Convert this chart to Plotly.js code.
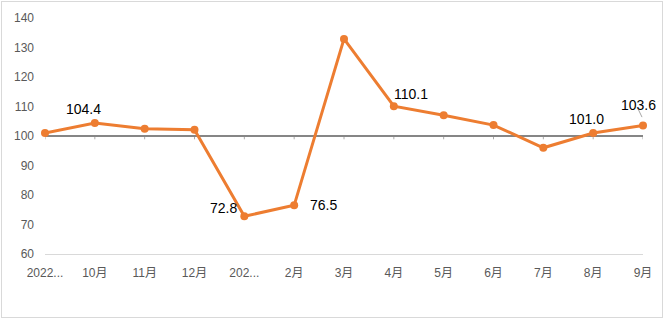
<!DOCTYPE html>
<html>
<head>
<meta charset="utf-8">
<script src="https://cdn.plot.ly/plotly-3.0.1.min.js"></script>
<style>
  html, body { margin: 0; padding: 0; background: #fff; }
  #wrap { position: relative; width: 665px; height: 319px; }
  #chart { position: absolute; left: 0; top: 0; width: 665px; height: 319px; }
  #frame { position: absolute; left: 1px; top: 1px; width: 660px; height: 315px; border: 1px solid #d9d9d9; pointer-events: none; }
</style>
</head>
<body>
<div id="wrap"><div id="chart"></div><div id="frame"></div></div>
<script>
// Data
const categories = ["2022...", "10月", "11月", "12月", "202...", "2月", "3月", "4月", "5月", "6月", "7月", "8月", "9月"];
const values = [101.0, 104.4, 102.5, 102.1, 72.8, 76.5, 132.9, 110.1, 107.0, 103.7, 96.0, 101.0, 103.6];
const yTicks = [60, 70, 80, 90, 100, 110, 120, 130, 140];
const baseline = 100;
// Which points carry a data label
const labeledIdx = [1, 4, 5, 7, 11, 12];
// label offsets (pixels) relative to the point
const labelShift = {
  1: [-11, 14], 4: [-21, 8], 5: [29, 0], 7: [17, 12], 11: [-7, 14], 12: [-5, 20]
};

const idx = categories.map((_, i) => i);
const orange = "#ED7D31";
const font = "Liberation Sans, Arial, Noto Sans CJK SC, sans-serif";

const trace = {
  x: idx, y: values, type: "scatter", mode: "lines+markers",
  line: { color: orange, width: 3 },
  marker: { color: orange, size: 8 },
  hoverinfo: "skip", showlegend: false, cliponaxis: false
};

const annotations = labeledIdx.map(i => {
  const s = labelShift[i];
  return {
    x: idx[i], y: values[i], xref: "x", yref: "y",
    text: values[i].toFixed(1), showarrow: false,
    xshift: s[0], yshift: s[1],
    font: { family: font, size: 14, color: "#000000" }
  };
});

const shapes = [
  { type: "line", xref: "x", yref: "y", x0: idx[0], x1: idx[idx.length - 1], y0: baseline, y1: baseline,
    line: { color: "#868686", width: 2 }, layer: "below" }
];
// tiny tick marks on the baseline at each category
idx.forEach(i => {
  shapes.push({ type: "line", xref: "x", yref: "paper", x0: i, x1: i,
    y0: (baseline - 60) / 80 - 0.014, y1: (baseline - 60) / 80,
    line: { color: "#aaaaaa", width: 1 }, layer: "below" });
});
// leader line for last label
shapes.push({ type: "line", xref: "x", yref: "paper", x0: idx[12] - 0.1, x1: idx[12] - 0.02,
  y0: (values[12] - 60) / 80 + 0.07, y1: (values[12] - 60) / 80 + 0.035,
  line: { color: "#a6a6a6", width: 1 } });

const layout = {
  width: 665, height: 319,
  margin: { l: 45, r: 22, t: 18, b: 65 },
  paper_bgcolor: "#ffffff", plot_bgcolor: "#ffffff",
  font: { family: font, color: "#595959", size: 12 },
  xaxis: {
    range: [0, idx.length - 1], tickmode: "array", tickvals: idx, ticktext: categories,
    showgrid: false, zeroline: false, showline: true, linecolor: "#d9d9d9", linewidth: 1,
    ticks: "", ticklabelstandoff: 8, tickangle: 0,
    tickfont: { family: font, size: 12, color: "#595959" }, fixedrange: true
  },
  yaxis: {
    range: [60, 140], tickmode: "array", tickvals: yTicks,
    showgrid: false, zeroline: false, showline: false, ticks: "",
    ticklabelstandoff: 10,
    tickfont: { family: font, size: 12, color: "#595959" }, fixedrange: true
  },
  shapes: shapes,
  annotations: annotations,
  showlegend: false
};

Plotly.newPlot("chart", [trace], layout, { staticPlot: true, displayModeBar: false });
</script>
</body>
</html>
